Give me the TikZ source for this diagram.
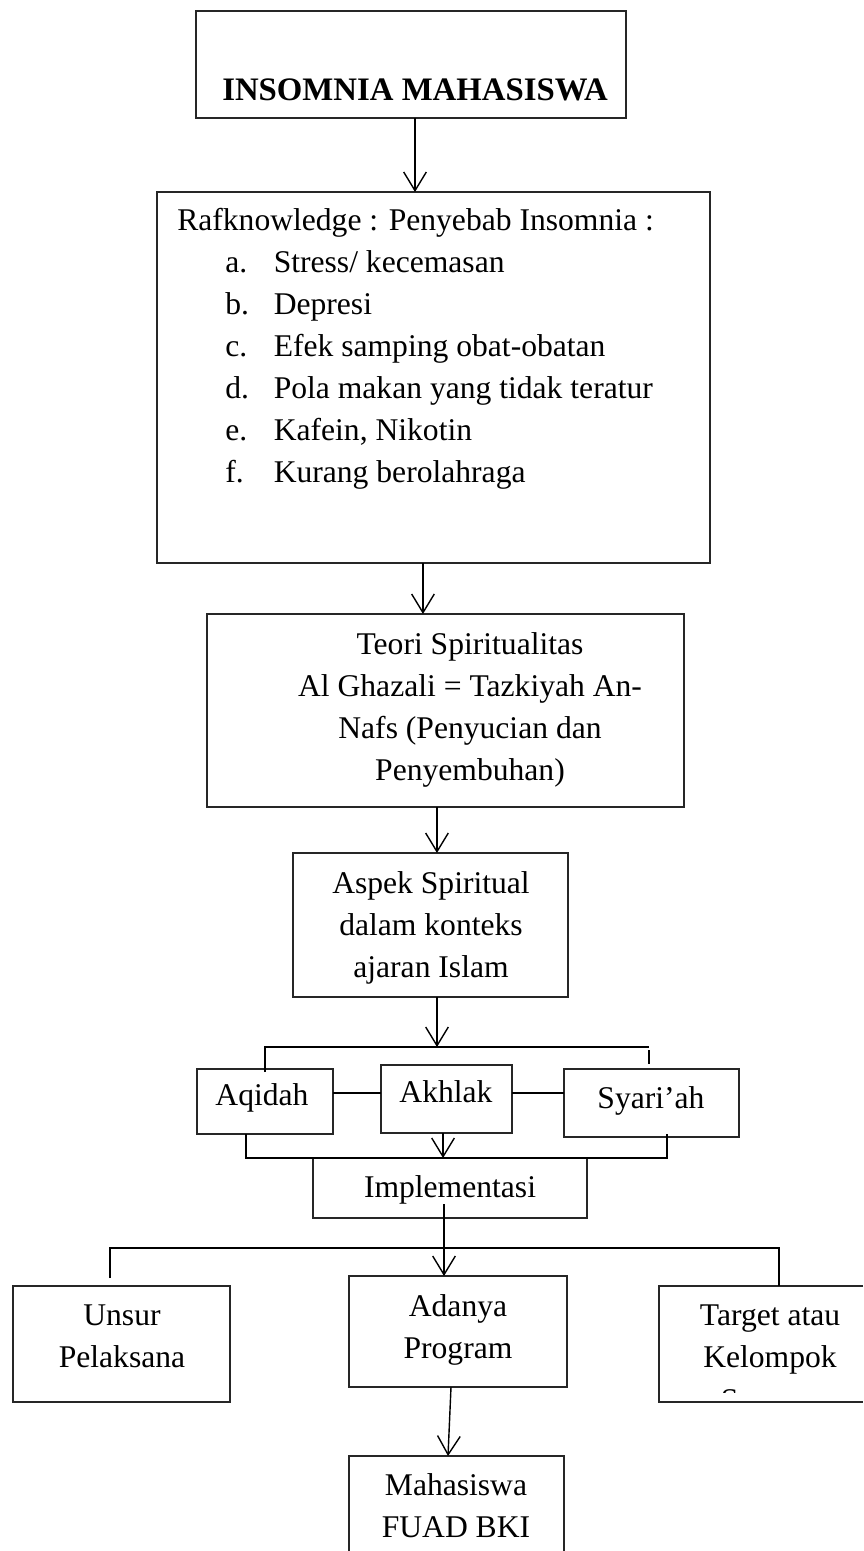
\documentclass[tikz,border=0pt]{standalone}
\usepackage{fontspec}
\setmainfont{Liberation Serif}
\usetikzlibrary{arrows.meta,calc}
\tikzset{
  box/.style={draw=black!85, line width=0.8pt, inner sep=0pt, outer sep=0pt},
  frame/.style={draw=none, inner sep=0pt, outer sep=0pt},
  edge/.style={draw=black!85, line width=0.8pt},
  txt/.style={font=\fontsize{23.7pt}{31.5pt}\selectfont, inner sep=0pt, align=center, anchor=base},
  conn/.style={line width=1.05pt, draw=black},
  arr/.style={conn, -{Straight Barb[length=14pt,width=17pt]}},
}
\newcommand\mybox[6][box]{\node[#1,minimum width={(#5-#3)*0.75pt},minimum height={(#6-#4)*0.75pt}] (#2) at ({(#3+#5)/2},{(#4+#6)/2}) {};}
\begin{document}
\begin{tikzpicture}[x=0.75pt,y=-0.75pt]
\useasboundingbox (0,0) rectangle (863,1551);
% boxes
\mybox{b1}{196}{11}{626}{118}
\mybox{b2}{157}{192}{710}{563}
\mybox{b3}{207}{614}{684}{807}
\mybox{b4}{293}{853}{568}{997}
\mybox{aq}{197}{1069}{333}{1134}
\mybox{ak}{381}{1065}{512}{1133}
\mybox{sy}{564}{1069}{739}{1137}
\mybox{im}{313}{1158}{587}{1218}
\mybox{un}{13}{1286}{230}{1402}
\mybox{ad}{349}{1276}{567}{1387}
\mybox[frame]{tg}{659}{1286}{863}{1402}
\mybox[frame]{mh}{349}{1456}{564}{1551}
\draw[edge] (tg.north east) -- (tg.north west) -- (tg.south west) -- (tg.south east);
\draw[edge] (mh.south west) -- (mh.north west) -- (mh.north east) -- (mh.south east);
% texts (multi-line nodes are placed by the baseline of their last line)
\node[font=\bfseries\fontsize{24.6pt}{30pt}\selectfont, inner sep=0pt, anchor=base] (t1) at (415,101) {INSOMNIA MAHASISWA};
\node[txt, align=left, anchor=base west] (t2) at (177,482) {Rafknowledge : Penyebab Insomnia :\\
\hspace*{36pt}\makebox[36.4pt][l]{a.}Stress/ kecemasan\\
\hspace*{36pt}\makebox[36.4pt][l]{b.}Depresi\\
\hspace*{36pt}\makebox[36.4pt][l]{c.}Efek samping obat-obatan\\
\hspace*{36pt}\makebox[36.4pt][l]{d.}Pola makan yang tidak teratur\\
\hspace*{36pt}\makebox[36.4pt][l]{e.}Kafein, Nikotin\\
\hspace*{36pt}\makebox[36.4pt][l]{f.}Kurang berolahraga};
\node[txt] (t3) at (470,780) {Teori Spiritualitas\\Al Ghazali = Tazkiyah An-\\Nafs (Penyucian dan\\Penyembuhan)};
\node[txt] (t4) at (431,977) {Aspek Spiritual\\dalam konteks\\ajaran Islam};
\node[txt] (taq) at (262,1105) {Aqidah};
\node[txt] (tak) at (446,1102) {Akhlak};
\node[txt] (tsy) at (651,1108) {Syari’ah};
\node[txt] (tim) at (450,1197) {Implementasi};
\node[txt] (tun) at (122,1367) {Unsur\\Pelaksana};
\node[txt] (tad) at (458,1358) {Adanya\\Program};
\node[txt] (ttg) at (770,1367) {Target atau\\Kelompok};
\begin{scope}
  \clip (660,1375) rectangle (862,1392);
  \node[txt] (ttg3) at (770,1410) {Sasaran};
\end{scope}
\node[txt] (tmh) at (456,1537) {Mahasiswa\\FUAD BKI};
% connectors
\draw[arr] ([xshift=3pt]b1.south) -- ([xshift=3pt]b1.south |- b2.north);
\draw[arr] ([xshift=-7.9pt]b2.south) -- ([xshift=-7.9pt]b2.south |- b3.north);
\draw[arr] ([xshift=-6.4pt]b3.south) -- ([xshift=-6.4pt]b3.south |- b4.north);
\coordinate (jt) at (437,1047);
\coordinate (jr) at (649,1047);
\draw[arr] (b4.south -| jt) -- (jt);
\draw[conn] ($(aq.north)+(0,3)$) -- (aq.north |- jt) -- (jr);
\draw[conn] ($(jr)+(0,3)$) -- ($(sy.north -| jr)+(0,-5)$);
\coordinate (hc) at (0,1093);
\draw[conn] (aq.east |- hc) -- (ak.west |- hc);
\draw[conn] (ak.east |- hc) -- (sy.west |- hc);
\coordinate (bl) at (246,1158);
\coordinate (br) at (667,1158);
\draw[conn] (aq.south -| bl) -- (bl) -- (br) -- ($(sy.south -| br)+(0,-3)$);
\draw[arr] ([xshift=-2.6pt]ak.south) -- ([xshift=-2.6pt]ak.south |- im.north);
\coordinate (is) at (444,1204);
\draw[arr] (is) -- (is |- ad.north);
\coordinate (hl) at (110,1248);
\coordinate (hr) at (779,1248);
\draw[conn] ($(hl |- un.north)+(0,-8)$) -- (hl) -- (hr) -- (hr |- tg.north);
\draw[arr] ($(ad.south)+(-7,0)$) -- ($(mh.north)+(-8.5,0)$);
\end{tikzpicture}
\end{document}
